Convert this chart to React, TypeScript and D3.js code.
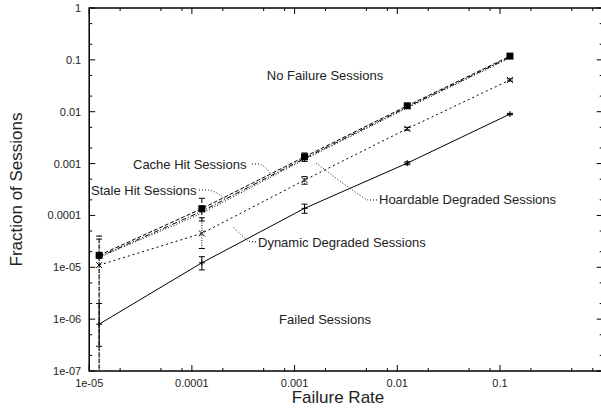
import React from "react";
import * as d3 from "d3";

const failureRates = [1.25e-5, 1.25e-4, 1.25e-3, 1.25e-2, 1.25e-1];
const cacheHit = [1.7e-5, 1.35e-4, 1.35e-3, 1.3e-2, 0.118];
const cacheHitLo = [1e-8, 7.8e-5, 1.1e-3, 1.2e-2, 0.112];
const cacheHitHi = [4e-5, 2.14e-4, 1.6e-3, 1.4e-2, 0.125];
const staleHit = [1.6e-5, 1.2e-4, 1.26e-3, 1.23e-2, 0.113];
const hoardable = [1.55e-5, 1.1e-4, 1.2e-3, 1.18e-2, 0.109];
const dynamicDeg = [1.1e-5, 4.5e-5, 4.8e-4, 4.7e-3, 0.041];
const dynamicLo = [1e-8, 2.3e-5, 4.0e-4, 4.4e-3, 0.039];
const dynamicHi = [3.5e-5, 9e-5, 5.6e-4, 5.0e-3, 0.043];
const failed = [8e-7, 1.22e-5, 1.37e-4, 1.02e-3, 9.0e-3];
const failedLo = [3e-7, 8.9e-6, 1.1e-4, 0.95e-3, 8.7e-3];
const failedHi = [2e-6, 1.6e-5, 1.65e-4, 1.08e-3, 9.3e-3];

const xTickValues = [1e-5, 1e-4, 1e-3, 1e-2, 1e-1];
const xTickLabels = ["1e-05", "0.0001", "0.001", "0.01", "0.1"];
const yTickValues = [1e-7, 1e-6, 1e-5, 1e-4, 1e-3, 1e-2, 1e-1, 1];
const yTickLabels = ["1e-07", "1e-06", "1e-05", "0.0001", "0.001", "0.01", "0.1", "1"];

const W = 601;
const H = 408;
const L = 89.2;
const R = 602.7;
const T = 8;
const B = 371;
const FONT = "'Liberation Sans', Arial, Helvetica, sans-serif";

export default function App() {
  const x = d3.scaleLog().domain([1e-5, 1]).range([L, R]);
  const y = d3.scaleLog().domain([1e-7, 1]).range([B, T]);

  const xMinor: number[] = [];
  for (let e = -5; e < 0; e++) for (const m of [2, 5, 8]) xMinor.push(m * Math.pow(10, e));
  const yMinor: number[] = [];
  for (let e = -7; e < 0; e++) for (const m of [2, 5]) yMinor.push(m * Math.pow(10, e));

  const line = (vals: number[]) =>
    d3.line<number>().x((_, i) => x(failureRates[i])).y((v) => y(v))(vals) || "";

  const errBars = (lo: number[], hi: number[], dash: string | undefined, key: string) =>
    failureRates.map((fr, i) => {
      const cx = x(fr);
      return (
        <g key={key + i} stroke="#000" strokeWidth={1} fill="none">
          <line x1={cx} x2={cx} y1={y(lo[i])} y2={y(hi[i])} strokeDasharray={dash} />
          <line x1={cx - 3} x2={cx + 3} y1={y(hi[i])} y2={y(hi[i])} />
          <line x1={cx - 3} x2={cx + 3} y1={y(lo[i])} y2={y(lo[i])} />
        </g>
      );
    });

  return (
    <svg
      width={W}
      height={H}
      style={{ position: "absolute", left: 0, top: 0, background: "#fff" }}
      fontFamily={FONT}
    >
      <defs>
        <clipPath id="plotClip">
          <rect x={L} y={T} width={R - L} height={B - T} />
        </clipPath>
      </defs>
      <rect x={0} y={0} width={W} height={H} fill="#fff" />

      {/* ticks */}
      <g stroke="#000" strokeWidth={1}>
        {xTickValues.map((v) => (
          <g key={"xt" + v}>
            <line x1={x(v)} x2={x(v)} y1={B} y2={B - 6} />
            <line x1={x(v)} x2={x(v)} y1={T} y2={T + 6} />
          </g>
        ))}
        {xMinor.map((v) => (
          <g key={"xm" + v}>
            <line x1={x(v)} x2={x(v)} y1={B} y2={B - 3} />
            <line x1={x(v)} x2={x(v)} y1={T} y2={T + 3} />
          </g>
        ))}
        {yTickValues.map((v) => (
          <g key={"yt" + v}>
            <line x1={L} x2={L + 6} y1={y(v)} y2={y(v)} />
            <line x1={R} x2={R - 6} y1={y(v)} y2={y(v)} />
          </g>
        ))}
        {yMinor.map((v) => (
          <g key={"ym" + v}>
            <line x1={L} x2={L + 3} y1={y(v)} y2={y(v)} />
            <line x1={R} x2={R - 3} y1={y(v)} y2={y(v)} />
          </g>
        ))}
      </g>

      {/* frame */}
      <rect x={L} y={T} width={R - L} height={B - T} fill="none" stroke="#000" strokeWidth={1.5} />

      {/* tick labels */}
      <g fontSize={11} fill="#222">
        {xTickValues.map((v, i) => (
          <text key={"xl" + v} x={x(v)} y={B + 16} textAnchor="middle">
            {xTickLabels[i]}
          </text>
        ))}
        {yTickValues.map((v, i) => (
          <text key={"yl" + v} x={L - 8} y={y(v) + 4} textAnchor="end">
            {yTickLabels[i]}
          </text>
        ))}
      </g>

      {/* axis titles */}
      <text x={338} y={403} fontSize={17} textAnchor="middle" fill="#222">
        Failure Rate
      </text>
      <text
        transform={`translate(22, ${(T + B) / 2}) rotate(-90)`}
        fontSize={17}
        textAnchor="middle"
        fill="#222"
      >
        Fraction of Sessions
      </text>

      <g clipPath="url(#plotClip)">
        {/* error bars */}
        {errBars(failedLo, failedHi, undefined, "fe")}
        {errBars(dynamicLo, dynamicHi, "1,1.5", "de")}
        {errBars(cacheHitLo, cacheHitHi, "4,2", "ce")}

        {/* lines */}
        <path d={line(failed)} fill="none" stroke="#000" strokeWidth={1} />
        <path d={line(dynamicDeg)} fill="none" stroke="#000" strokeWidth={1} strokeDasharray="2,3" />
        <path d={line(hoardable)} fill="none" stroke="#000" strokeWidth={1} strokeDasharray="1,2" />
        <path d={line(staleHit)} fill="none" stroke="#000" strokeWidth={1} strokeDasharray="5,2,1,2" />
        <path d={line(cacheHit)} fill="none" stroke="#000" strokeWidth={1} strokeDasharray="4,2" />

        {/* markers */}
        {failureRates.map((fr, i) => {
          const cx = x(fr);
          const cy = y(failed[i]);
          return (
            <g key={"fm" + i} stroke="#000" strokeWidth={1}>
              <line x1={cx - 3} x2={cx + 3} y1={cy} y2={cy} />
              <line x1={cx} x2={cx} y1={cy - 3} y2={cy + 3} />
            </g>
          );
        })}
        {failureRates.map((fr, i) => {
          const cx = x(fr);
          const cy = y(dynamicDeg[i]);
          return (
            <g key={"dm" + i} stroke="#000" strokeWidth={1}>
              <line x1={cx - 3} x2={cx + 3} y1={cy - 3} y2={cy + 3} />
              <line x1={cx - 3} x2={cx + 3} y1={cy + 3} y2={cy - 3} />
            </g>
          );
        })}
        {failureRates.map((fr, i) => (
          <rect
            key={"cm" + i}
            x={x(fr) - 3.5}
            y={y(cacheHit[i]) - 3.5}
            width={7}
            height={7}
            fill="#000"
          />
        ))}
      </g>

      {/* annotations */}
      <g fontSize={13} fill="#222">
        <text x={325} y={80} textAnchor="middle">No Failure Sessions</text>
        <text x={325} y={324} textAnchor="middle">Failed Sessions</text>
        <text x={133} y={169}>Cache Hit Sessions</text>
        <text x={91} y={195}>Stale Hit Sessions</text>
        <text x={379} y={204}>Hoardable Degraded Sessions</text>
        <text x={258} y={247}>Dynamic Degraded Sessions</text>
      </g>
      <g fill="none" stroke="#000" strokeWidth={1} strokeDasharray="1,2">
        <path d="M252,164 L260,164 Q265,166 271,174" />
        <path d="M199,190 L208,190 Q216,191 225,199" />
        <path d="M377,200 L368,200 Q362,198 316,163" />
        <path d="M256,242 L248,241 Q242,236 233,227" />
      </g>
    </svg>
  );
}
